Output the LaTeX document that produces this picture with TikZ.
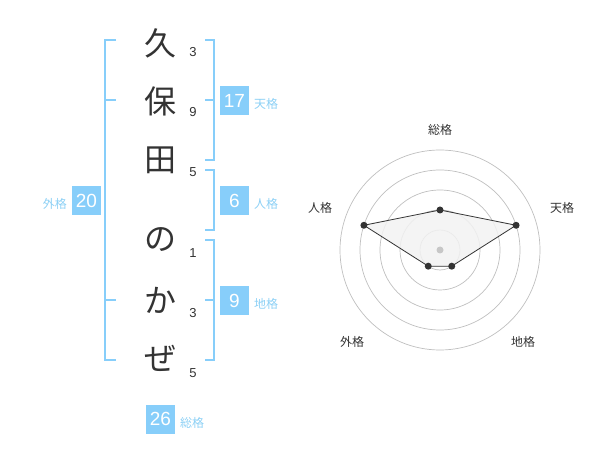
\documentclass[tikz,border=0pt]{standalone}
\usepackage{fontspec}
\setmainfont{Liberation Sans}
\newfontfamily\jp{Noto Sans CJK JP}
\definecolor{sky}{RGB}{135,206,250}
\definecolor{skytext}{RGB}{140,208,245}
\definecolor{ink}{RGB}{51,51,51}
\begin{document}
\begin{tikzpicture}[x=1pt,y=-1pt,
  brk/.style={draw=sky,line width=2pt},
  kanji/.style={font=\jp\fontsize{32}{32}\selectfont,text=ink,inner sep=0pt},
  stroke/.style={font=\fontsize{13}{13}\selectfont,text=ink,inner sep=0pt},
  valbox/.style={fill=sky,text=white,minimum width=29pt,minimum height=29pt,inner sep=0pt,font=\fontsize{19}{19}\selectfont},
  lbl/.style={font=\jp\fontsize{12}{12}\selectfont,text=skytext,inner sep=0pt},
  ring/.style={draw=black!25,line width=0.7pt},
  axlbl/.style={font=\jp\fontsize{12}{12}\selectfont,text=ink,inner sep=0pt},
  pt/.style={circle,fill=ink,inner sep=0pt,minimum size=7pt}]
\useasboundingbox (0,0) rectangle (600,470);
% characters
\node[kanji] (c1) at (160,43) {久};
\node[kanji] (c2) at (160,101) {保};
\node[kanji] (c3) at (160,160) {田};
\node[kanji] (c4) at (160,240) {の};
\node[kanji] (c5) at (160,300) {か};
\node[kanji] (c6) at (160,358) {ぜ};
% stroke counts
\node[stroke] (s1) at (193,52) {3};
\node[stroke] (s2) at (193,112) {9};
\node[stroke] (s3) at (193,172) {5};
\node[stroke] (s4) at (193,253) {1};
\node[stroke] (s5) at (193,313) {3};
\node[stroke] (s6) at (193,373) {5};
% left bracket (外格)
\draw[brk] (116,40) -- (105,40) -- (105,360) -- (116,360);
\draw[brk] (105,100) -- (116,100);
\draw[brk] (105,300) -- (116,300);
% right brackets
\draw[brk] (205,40) -- (214,40) -- (214,160) -- (205,160);
\draw[brk] (205,100) -- (214,100);
\draw[brk] (205,170) -- (214,170) -- (214,230) -- (205,230);
\draw[brk] (205,240) -- (214,240) -- (214,360) -- (205,360);
\draw[brk] (205,300) -- (214,300);
% value boxes
\node[valbox] (ten) at (234.5,100.5) {17};
\node[lbl,anchor=west] (tenl) at (254,104) {天格};
\node[valbox] (jin) at (234.5,200.5) {6};
\node[lbl,anchor=west] (jinl) at (254,204) {人格};
\node[valbox] (chi) at (234.5,300.5) {9};
\node[lbl,anchor=west] (chil) at (254,304) {地格};
\node[valbox] (gai) at (86.5,200.5) {20};
\node[lbl,anchor=east] (gail) at (67,204) {外格};
\node[valbox] (sou) at (160.5,419) {26};
\node[lbl,anchor=west] (soul) at (180,423) {総格};
% radar chart
\foreach \r in {20,40,60,80,100} \draw[ring] (440,250) circle[radius=\r];
\coordinate (pS) at ({440+40*cos(90)},{250-40*sin(90)});
\coordinate (pT) at ({440+80*cos(18)},{250-80*sin(18)});
\coordinate (pC) at ({440+20*cos(-54)},{250-20*sin(-54)});
\coordinate (pG) at ({440+20*cos(234)},{250-20*sin(234)});
\coordinate (pJ) at ({440+80*cos(162)},{250-80*sin(162)});
\fill[black!5,opacity=0.85] (pS) -- (pT) -- (pC) -- (pG) -- (pJ) -- cycle;
\fill[black!22] (440,250) circle[radius=3.5];
\draw[ink,line width=0.8pt] (pS) -- (pT) -- (pC) -- (pG) -- (pJ) -- cycle;
\foreach \p in {pS,pT,pC,pG,pJ} \node[pt] at (\p) {};
\node[axlbl] (aS) at (440,130) {総格};
\node[axlbl] (aT) at (562,208) {天格};
\node[axlbl] (aC) at (523,342) {地格};
\node[axlbl] (aG) at (352,342) {外格};
\node[axlbl] (aJ) at (320,208) {人格};
\end{tikzpicture}
\end{document}
